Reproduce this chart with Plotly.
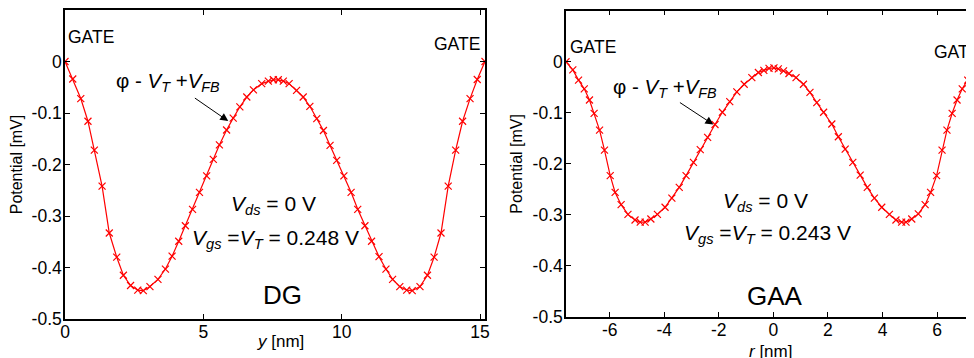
import plotly.graph_objects as go

# ---------------- data ----------------
dg_y_nm = [0.0, 0.28, 0.57, 0.83, 1.06, 1.34, 1.60, 1.87, 2.11, 2.37, 2.63, 2.83, 3.07, 3.36,
           3.63, 3.87, 4.11, 4.35, 4.61, 4.86, 5.12, 5.36, 5.58, 5.84, 6.08, 6.32, 6.57, 6.81,
           7.11, 7.35, 7.53, 7.71, 7.89, 8.10, 8.37, 8.61, 8.85, 9.10, 9.34, 9.58, 9.82, 10.08,
           10.34, 10.58, 10.84, 11.08, 11.35, 11.60, 11.84, 12.10, 12.35, 12.55, 12.83, 13.10,
           13.34, 13.59, 13.85, 14.12, 14.37, 14.64, 14.90, 15.18]
dg_pot = [0.0, -0.034, -0.072, -0.116, -0.172, -0.242, -0.333, -0.380, -0.415, -0.435, -0.444,
          -0.445, -0.437, -0.423, -0.403, -0.378, -0.349, -0.319, -0.287, -0.254, -0.222, -0.190,
          -0.162, -0.133, -0.110, -0.088, -0.069, -0.055, -0.043, -0.038, -0.0355, -0.0355,
          -0.038, -0.043, -0.056, -0.069, -0.087, -0.111, -0.134, -0.163, -0.192, -0.222,
          -0.254, -0.287, -0.319, -0.349, -0.379, -0.403, -0.423, -0.437, -0.444, -0.445,
          -0.437, -0.415, -0.380, -0.333, -0.242, -0.172, -0.116, -0.072, -0.035, 0.0]

gaa_r_nm = [-7.60, -7.35, -7.14, -6.93, -6.74, -6.57, -6.37, -6.19, -5.98, -5.80, -5.58, -5.33,
            -5.07, -4.88, -4.70, -4.49, -4.25, -3.97, -3.72, -3.45, -3.20, -2.93, -2.68, -2.41,
            -2.14, -1.87, -1.60, -1.34, -1.07, -0.79, -0.55, -0.35, -0.16, 0.02, 0.18, 0.37,
            0.57, 0.83, 1.10, 1.34, 1.59, 1.84, 2.14, 2.38, 2.63, 2.91, 3.18, 3.44, 3.70, 3.97,
            4.25, 4.49, 4.70, 4.86, 5.07, 5.31, 5.56, 5.76, 5.98, 6.18, 6.36, 6.55, 6.73, 6.92,
            7.12, 7.33, 7.60]
gaa_pot = [0.0, -0.016, -0.036, -0.053, -0.075, -0.101, -0.134, -0.173, -0.223, -0.256, -0.280,
           -0.299, -0.310, -0.314, -0.314, -0.308, -0.299, -0.285, -0.267, -0.246, -0.223,
           -0.197, -0.172, -0.148, -0.123, -0.099, -0.078, -0.059, -0.044, -0.031, -0.021,
           -0.017, -0.013, -0.012, -0.014, -0.018, -0.023, -0.031, -0.044, -0.060, -0.080,
           -0.099, -0.122, -0.147, -0.171, -0.197, -0.222, -0.246, -0.267, -0.285, -0.299,
           -0.310, -0.314, -0.314, -0.308, -0.298, -0.280, -0.256, -0.223, -0.173, -0.134,
           -0.101, -0.075, -0.053, -0.036, -0.017, 0.0]

y_tickvals = [-0.5, -0.4, -0.3, -0.2, -0.1, 0]
y_ticktext = ["-0.5", "-0.4", "-0.3", "-0.2", "-0.1", "0"]
dg_xtickvals = [0, 5, 10, 15]
dg_xticktext = ["0", "5", "10", "15"]
gaa_xtickvals = [-6, -4, -2, 0, 2, 4, 6]
gaa_xticktext = ["-6", "-4", "-2", "0", "2", "4", "6"]

# ---------------- figure ----------------
RED = "#ff0000"
FONT = "Arial, Liberation Sans, sans-serif"
W, H = 974, 358
OFF = 8  # page body margin offset in the browser window

fig = go.Figure()
for xs, ys, xa, ya in [(dg_y_nm, dg_pot, "x", "y"), (gaa_r_nm, gaa_pot, "x2", "y2")]:
    fig.add_trace(go.Scatter(
        x=xs, y=ys, xaxis=xa, yaxis=ya, mode="lines+markers",
        line=dict(color=RED, width=1.2),
        marker=dict(symbol="x-thin", size=7, color=RED, line=dict(color=RED, width=1.2)),
        showlegend=False, hoverinfo="skip"))

axis_common = dict(showgrid=False, zeroline=False, showline=True, linecolor="black",
                   linewidth=1.5, ticks="inside", ticklen=5, tickwidth=1, tickcolor="black",
                   automargin=False,
                   tickfont=dict(family=FONT, size=17.5, color="black"))


def xdom(a, b):
    return [(a - OFF) / W, (b - OFF) / W]


def ydom(top, bottom):
    return [1 - (bottom - OFF) / H, 1 - (top - OFF) / H]


def ypaper(py):
    return 1 - (py - OFF) / H


fig.update_layout(
    width=W, height=H, margin=dict(l=0, r=0, t=0, b=0, autoexpand=False),
    paper_bgcolor="white", plot_bgcolor="white",
    font=dict(family=FONT, size=16, color="black"),
    xaxis=dict(domain=xdom(65, 485), range=[0, 15.18], tickvals=dg_xtickvals,
               ticktext=dg_xticktext, mirror="ticks", anchor="y", ticklabelstandoff=-4,
               **axis_common),
    yaxis=dict(domain=ydom(10, 319), range=[-0.5, 0.1], tickvals=y_tickvals,
               ticktext=y_ticktext, mirror="ticks", anchor="x", ticklabelstandoff=-2,
               title=dict(text="Potential [mV]", standoff=6, font=dict(size=16)),
               **axis_common),
    xaxis2=dict(domain=xdom(566, 980.8), range=[-7.6, 7.6], tickvals=gaa_xtickvals,
                ticktext=gaa_xticktext, mirror="ticks", anchor="y2", ticklabelstandoff=-4,
                **axis_common),
    yaxis2=dict(domain=ydom(10.7, 317), range=[-0.5, 0.1], tickvals=y_tickvals,
                ticktext=y_ticktext, mirror="ticks", anchor="x2", ticklabelstandoff=-2,
                title=dict(text="Potential [mV]", standoff=6, font=dict(size=16)),
                **axis_common),
)

phi = "φ - <i>V</i><sub><i>T</i></sub> +<i>V</i><sub><i>FB</i></sub>"
vds = "<i>V</i><sub><i>ds</i></sub> = 0 V"

annots = [
    # DG panel
    dict(xref="x", yref="y", x=0.04, y=0.048, text="GATE", xanchor="left", font=dict(size=17.5)),
    dict(xref="x", yref="y", x=15.07, y=0.034, text="GATE", xanchor="right", font=dict(size=17.5)),
    dict(xref="x", yref="y", x=1.78, y=-0.040, text=phi, xanchor="left", font=dict(size=20.5)),
    dict(xref="x", yref="y", x=7.55, y=-0.279, text=vds, font=dict(size=21)),
    dict(xref="x", yref="y", x=7.6, y=-0.345,
         text="<i>V</i><sub><i>gs</i></sub> =<i>V</i><sub><i>T</i></sub> = 0.248 V", font=dict(size=21)),
    dict(xref="x", yref="y", x=7.85, y=-0.453, text="DG", font=dict(size=26)),
    dict(xref="x", yref="paper", x=7.8, y=ypaper(341), yanchor="middle",
         text="<i>y</i> [nm]", font=dict(size=17)),
    # GAA panel
    dict(xref="x2", yref="y2", x=-7.52, y=0.028, text="GATE", xanchor="left", font=dict(size=17.5)),
    dict(xref="x2", yref="y2", x=5.81, y=0.020, text="GATE", xanchor="left", font=dict(size=17.5)),
    dict(xref="x2", yref="y2", x=-5.95, y=-0.052, text=phi, xanchor="left", font=dict(size=20.5)),
    dict(xref="x2", yref="y2", x=-0.28, y=-0.274, text=vds, font=dict(size=21)),
    dict(xref="x2", yref="y2", x=-0.21, y=-0.338,
         text="<i>V</i><sub><i>gs</i></sub> =<i>V</i><sub><i>T</i></sub> = 0.243 V", font=dict(size=21)),
    dict(xref="x2", yref="y2", x=0.05, y=-0.458, text="GAA", font=dict(size=26)),
    dict(xref="x2", yref="paper", x=-0.12, y=ypaper(351), yanchor="middle",
         text="<i>r</i> [nm]", font=dict(size=17)),
]
for a in annots:
    a.setdefault("showarrow", False)
    a["font"].update(family=FONT, color="black")
    fig.add_annotation(**a)

# arrows
fig.add_annotation(xref="x", yref="y", x=5.90, y=-0.1157, axref="x", ayref="y", ax=4.64, ay=-0.069,
                   text="", showarrow=True, arrowhead=2, arrowsize=1.6, arrowwidth=1, arrowcolor="black")
fig.add_annotation(xref="x2", yref="y2", x=-2.2, y=-0.123, axref="x2", ayref="y2", ax=-3.48, ay=-0.078,
                   text="", showarrow=True, arrowhead=2, arrowsize=1.6, arrowwidth=1, arrowcolor="black")

fig.write_html("out.html")
